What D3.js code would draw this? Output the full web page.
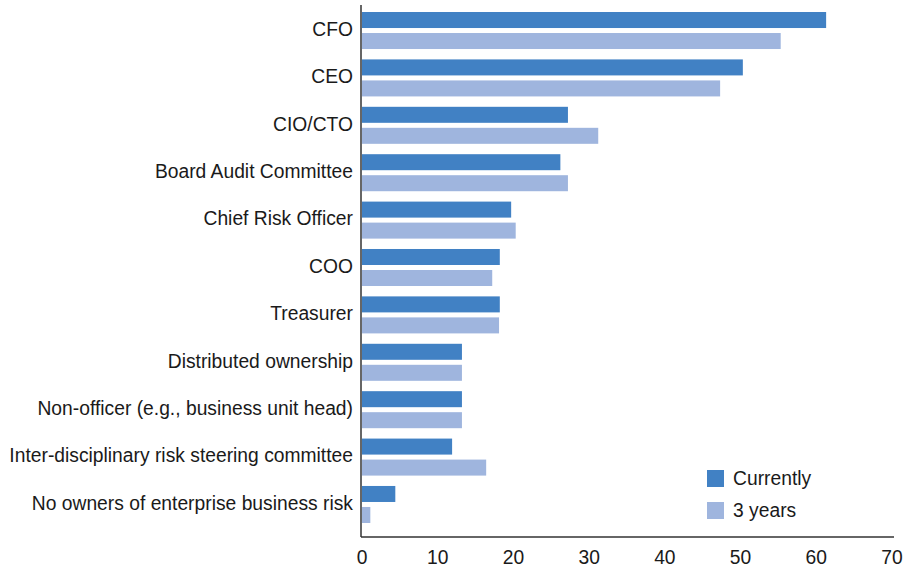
<!DOCTYPE html>
<html>
<head>
<meta charset="utf-8">
<script src="https://cdn.jsdelivr.net/npm/d3@7"></script>
<style>
  body { margin: 0; background: #fff; }
  svg text { font-family: "Liberation Sans", Arial, sans-serif; font-size: 21px; fill: #1a1a1a; }
</style>
</head>
<body>
<svg id="chart" width="906" height="571"></svg>
<script>
// categories top to bottom
var categories = ["CFO", "CEO", "CIO/CTO", "Board Audit Committee", "Chief Risk Officer", "COO",
  "Treasurer", "Distributed ownership", "Non-officer (e.g., business unit head)",
  "Inter-disciplinary risk steering committee", "No owners of enterprise business risk"];
var seriesNames = ["Currently", "3 years"];
var currently = [61.3, 50.3, 27.2, 26.2, 19.7, 18.2, 18.2, 13.2, 13.2, 11.9, 4.4];
var threeYears = [55.3, 47.3, 31.2, 27.2, 20.3, 17.2, 18.1, 13.2, 13.2, 16.4, 1.1];
var xTicks = [0, 10, 20, 30, 40, 50, 60, 70];

var colors = ["#4181c4", "#9fb5de"];
var left = 361, right = 892, axisY = 537;

var svg = d3.select("#chart");

// the source font is a condensed sans; squeeze a regular one to the same width
var probe = svg.append("text").text("Inter-disciplinary risk steering committee");
var k = 344 / probe.node().getComputedTextLength();
probe.remove();

function label(sel, x, y, anchor, txt) {
  sel.append("g").attr("transform", "translate(" + x + "," + y + ") scale(" + k + ",1)")
    .append("text").attr("text-anchor", anchor).attr("dy", "0.35em").text(txt);
}

var x = d3.scaleLinear().domain([0, 70]).range([left + 1, right]);
var y = d3.scaleBand().domain(categories).range([6.8, 528.2]).paddingInner(0.219).paddingOuter(0.11);
var inner = d3.scaleBand().domain(seriesNames).range([0, y.bandwidth()]).paddingInner(0.238);

var rows = categories.map(function(c, i) {
  return { key: c, values: [currently[i], threeYears[i]] };
});

var g = svg.selectAll("g.row").data(rows).enter().append("g")
  .attr("class", "row")
  .attr("transform", function(d) { return "translate(0," + y(d.key) + ")"; });

g.selectAll("rect").data(function(d) {
    return d.values.map(function(v, j) { return { s: seriesNames[j], v: v, j: j }; });
  }).enter().append("rect")
  .attr("x", x(0))
  .attr("y", function(d) { return inner(d.s); })
  .attr("height", inner.bandwidth())
  .attr("width", function(d) { return x(d.v) - x(0); })
  .attr("fill", function(d) { return colors[d.j]; });

// category labels
categories.forEach(function(c) {
  label(svg, left - 8, y(c) + y.bandwidth() / 2 - 2, "end", c);
});

// axes lines
svg.append("line").attr("x1", left).attr("x2", left).attr("y1", 5).attr("y2", axisY)
  .attr("stroke", "#333").attr("stroke-width", 1.5);
svg.append("line").attr("x1", left).attr("x2", right + 2).attr("y1", axisY).attr("y2", axisY)
  .attr("stroke", "#333").attr("stroke-width", 1.5);

// x tick labels
xTicks.forEach(function(t) {
  label(svg, x(t), axisY + 20, "middle", t);
});

// legend
seriesNames.forEach(function(s, i) {
  var ly = 470 + i * 32;
  svg.append("rect").attr("x", 707).attr("y", ly).attr("width", 17).attr("height", 17)
    .attr("fill", colors[i]);
  label(svg, 733, ly + 8, "start", s);
});
</script>
</body>
</html>
